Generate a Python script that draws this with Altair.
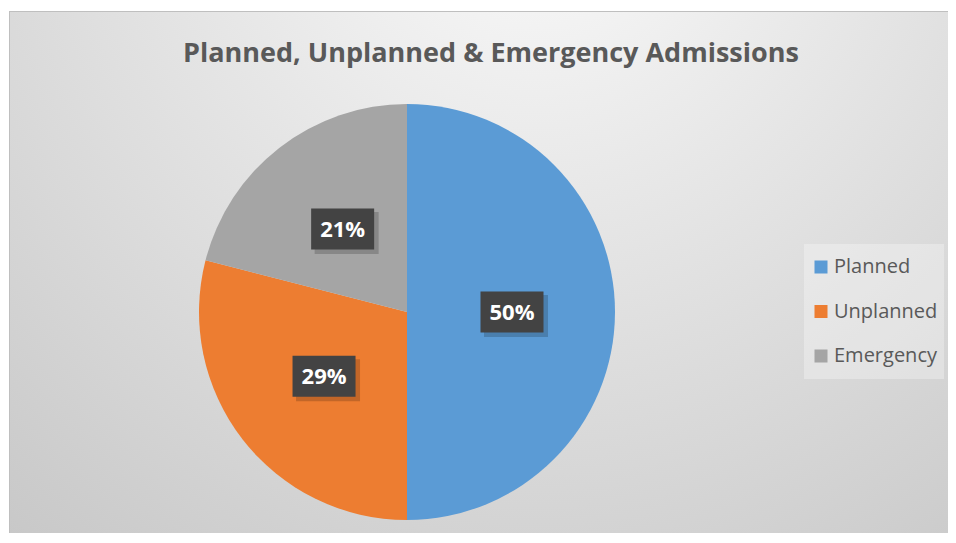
import altair as alt
import pandas as pd

categories = ["Planned", "Unplanned", "Emergency"]
values = [50, 29, 21]
colors = ["#5B9BD5", "#ED7D31", "#A5A5A5"]
title_text = "Planned, Unplanned & Emergency Admissions"

W, H = 940, 525
CX, CY, R, LR = 398, 301, 208, 105

df = pd.DataFrame({"category": categories, "value": values, "idx": list(range(len(values)))})
one = pd.DataFrame({"k": [0]})

bg = alt.Chart(one).mark_rect(
    fill={
        "gradient": "radial",
        "stops": [
            {"offset": 0, "color": "#fbfbfb"},
            {"offset": 1, "color": "#c2c2c2"},
        ],
        "x1": 0.56, "y1": 0.08, "r1": 0,
        "x2": 0.56, "y2": 0.08, "r2": 1.0,
    },
).encode(x=alt.value(0), x2=alt.value(W), y=alt.value(0), y2=alt.value(H))

border_top = alt.Chart(one).mark_rule(color="#bfbfbf", strokeWidth=1).encode(
    x=alt.value(0), x2=alt.value(W), y=alt.value(0.5)
)
border_left = alt.Chart(one).mark_rule(color="#bfbfbf", strokeWidth=1).encode(
    x=alt.value(0.5), y=alt.value(0), y2=alt.value(H)
)

legend_bg = alt.Chart(one).mark_rect(fill="#ffffff", opacity=0.3).encode(
    x=alt.value(795), x2=alt.value(935), y=alt.value(233), y2=alt.value(368)
)

title = alt.Chart(pd.DataFrame({"t": [title_text]})).mark_text(
    font="Open Sans", fontWeight="bold", fontSize=27, color="#595959", align="center", baseline="alphabetic"
).encode(text="t:N", x=alt.value(482), y=alt.value(51))

pie = alt.Chart(df).mark_arc(radius=R).encode(
    theta=alt.Theta("value:Q", stack=True),
    order=alt.Order("idx:Q"),
    color=alt.Color(
        "category:N",
        scale=alt.Scale(domain=categories, range=colors),
        sort=categories,
        legend=alt.Legend(
            title=None,
            orient="none",
            legendX=802,
            legendY=246,
            padding=0,
            symbolType="square",
            symbolSize=169,
            symbolStrokeWidth=0,
            labelFont="Open Sans",
            labelFontSize=20,
            labelColor="#595959",
            rowPadding=24.5,
            labelOffset=3,
        ),
    ),
    x=alt.value(CX),
    y=alt.value(CY),
)

lab_base = alt.Chart(df).transform_joinaggregate(total="sum(value)").transform_window(
    cum="sum(value)", sort=[alt.SortField("idx")]
).transform_calculate(
    ang="2*PI*(datum.cum - datum.value/2)/datum.total",
    px=f"{CX} + {LR}*sin(datum.ang)",
    py=f"{CY} - {LR}*cos(datum.ang)",
    bx1="datum.px - 31.5",
    bx2="datum.px + 31.5",
    by1="datum.py - 20.5",
    by2="datum.py + 20.5",
    sx1="datum.px - 28",
    sx2="datum.px + 36",
    sy1="datum.py - 17",
    sy2="datum.py + 25",
    label="round(100*datum.value/datum.total) + '%'",
)

shadow = lab_base.mark_rect(fill="#000000", opacity=0.18).encode(
    x=alt.X("sx1:Q", scale=None, axis=None), x2="sx2:Q",
    y=alt.Y("sy1:Q", scale=None, axis=None), y2="sy2:Q",
)
box = lab_base.mark_rect(fill="#434343").encode(
    x=alt.X("bx1:Q", scale=None, axis=None), x2="bx2:Q",
    y=alt.Y("by1:Q", scale=None, axis=None), y2="by2:Q",
)
txt = lab_base.mark_text(
    font="Open Sans", fontWeight="bold", fontSize=22, color="#ffffff", align="center", baseline="middle", dy=1
).encode(
    x=alt.X("px:Q", scale=None, axis=None),
    y=alt.Y("py:Q", scale=None, axis=None),
    text="label:N",
)

chart = alt.layer(bg, border_top, border_left, legend_bg, title, pie, shadow, box, txt).properties(
    width=W,
    height=H,
    padding={"top": 2, "left": 0, "right": 0, "bottom": 0},
    autosize=alt.AutoSizeParams(type="fit", contains="padding"),
).configure_view(stroke=None).configure(background="#ffffff")

chart.save("out.html", embed_options={"renderer": "svg", "actions": False})
